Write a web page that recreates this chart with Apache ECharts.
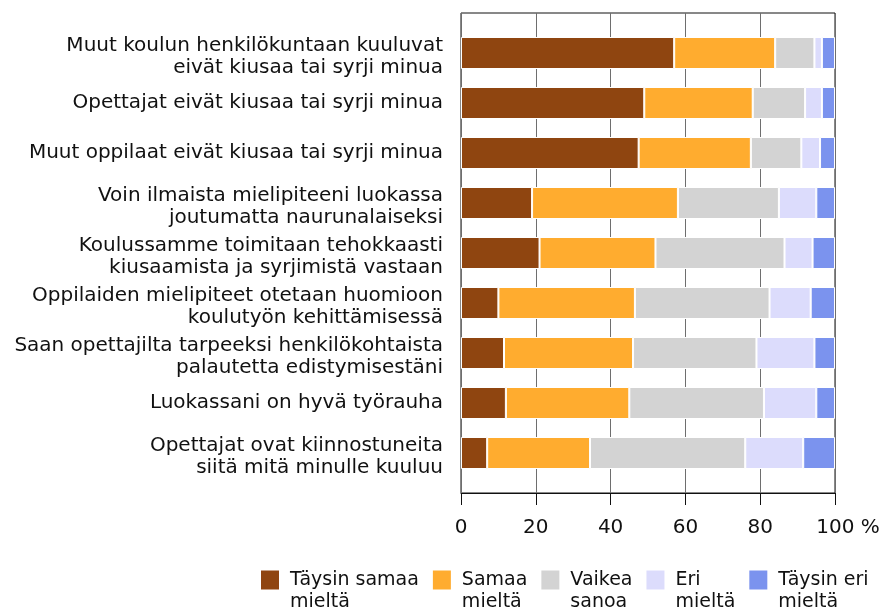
<!DOCTYPE html>
<html>
<head>
<meta charset="utf-8">
<script src="https://cdn.jsdelivr.net/npm/echarts@6/dist/echarts.min.js"></script>
<style>
html, body { margin: 0; padding: 0; background: #fff; }
#main { width: 886px; height: 609px; }
</style>
</head>
<body>
<div id="main"></div>
<script>
// väittämät, ylhäältä alas
const statements = [
  'Muut koulun henkilökuntaan kuuluvat\neivät kiusaa tai syrji minua',
  'Opettajat eivät kiusaa tai syrji minua',
  'Muut oppilaat eivät kiusaa tai syrji minua',
  'Voin ilmaista mielipiteeni luokassa\njoutumatta naurunalaiseksi',
  'Koulussamme toimitaan tehokkaasti\nkiusaamista ja syrjimistä vastaan',
  'Oppilaiden mielipiteet otetaan huomioon\nkoulutyön kehittämisessä',
  'Saan opettajilta tarpeeksi henkilökohtaista\npalautetta edistymisestäni',
  'Luokassani on hyvä työrauha',
  'Opettajat ovat kiinnostuneita\nsiitä mitä minulle kuuluu'
];
const answerNames = ['Täysin samaa\nmieltä', 'Samaa\nmieltä', 'Vaikea\nsanoa', 'Eri\nmieltä', 'Täysin eri\nmieltä'];
const answerColors = ['#8f4510', '#ffac2f', '#d3d3d3', '#dcdcfc', '#7b93ee'];

// osuudet %
const taysinSamaa = [57, 49, 47.5, 19, 21, 10, 11.5, 12, 7];
const samaa = [27, 29, 30, 39, 31, 36.5, 34.5, 33, 27.5];
const vaikea = [10.5, 14, 13.5, 27, 34.5, 36, 33, 36, 41.5];
const eri = [2, 4.5, 5, 10, 7.5, 11, 15.5, 14, 15.5];
const taysinEri = [3.5, 3.5, 4, 5, 6, 6.5, 5.5, 5, 8.5];
const answerValues = [taysinSamaa, samaa, vaikea, eri, taysinEri];

const font = 'DejaVu Sans, Verdana, sans-serif';

let myChart = echarts.init(document.getElementById('main'));
const option = {
  animation: false,
  textStyle: { fontFamily: font },
  grid: [
    // kehys + asteikko
    { left: 461, right: 51, top: 13, bottom: 116, show: true, borderColor: '#111', borderWidth: 1,
      containLabel: false, outerBoundsMode: 'none' },
    // palkit
    { left: 461, right: 51, top: 28, bottom: 131, containLabel: false, outerBoundsMode: 'none' }
  ],
  xAxis: [
    {
      gridIndex: 0, type: 'value', min: 0, max: 100, interval: 20,
      axisLine: { show: true, lineStyle: { color: '#111', width: 1 } },
      axisTick: { show: true, length: 12, lineStyle: { color: '#111' } },
      splitLine: { show: true, lineStyle: { color: '#6e6e6e', width: 1 } },
      axisLabel: {
        fontSize: 20, color: '#111', margin: 25, fontFamily: font,
        formatter: function (v) { return v === 100 ? '{s| }100 %' : String(v); },
        rich: { s: { width: 26, fontSize: 20 } }
      }
    },
    { gridIndex: 1, type: 'value', min: 0, max: 100, show: false }
  ],
  yAxis: [
    { gridIndex: 0, type: 'value', min: 0, max: 1, show: false },
    {
      gridIndex: 1, type: 'category', data: statements, inverse: true,
      axisLine: { show: false }, axisTick: { show: false }, splitLine: { show: false },
      axisLabel: {
        fontSize: 20, lineHeight: 22, color: '#111', margin: 18, fontFamily: font,
        // kaksiriviset hieman alemmas
        formatter: function (s) {
          return s.indexOf('\n') >= 0 ? s.split('\n').map(t => '{m|' + t + '}').join('\n') : s;
        },
        rich: { m: { fontSize: 20, lineHeight: 22, padding: [7, 0, 0, 0], fontFamily: font, color: '#111' } }
      }
    }
  ],
  legend: {
    left: 259, top: 547, padding: 0,
    icon: 'rect', itemWidth: 20, itemHeight: 21, itemGap: 12,
    data: answerNames,
    formatter: function (name) { return '\n' + name; },
    textStyle: { fontSize: 19, lineHeight: 22, color: '#111', fontFamily: font, padding: [0, 0, 0, 5] }
  },
  series: answerNames.map((name, i) => ({
    name: name,
    type: 'bar',
    stack: 'total',
    xAxisIndex: 1,
    yAxisIndex: 1,
    barWidth: 32,
    itemStyle: { color: answerColors[i], borderColor: '#fff', borderWidth: 1 },
    data: answerValues[i]
  }))
};
myChart.setOption(option);
</script>
</body>
</html>
